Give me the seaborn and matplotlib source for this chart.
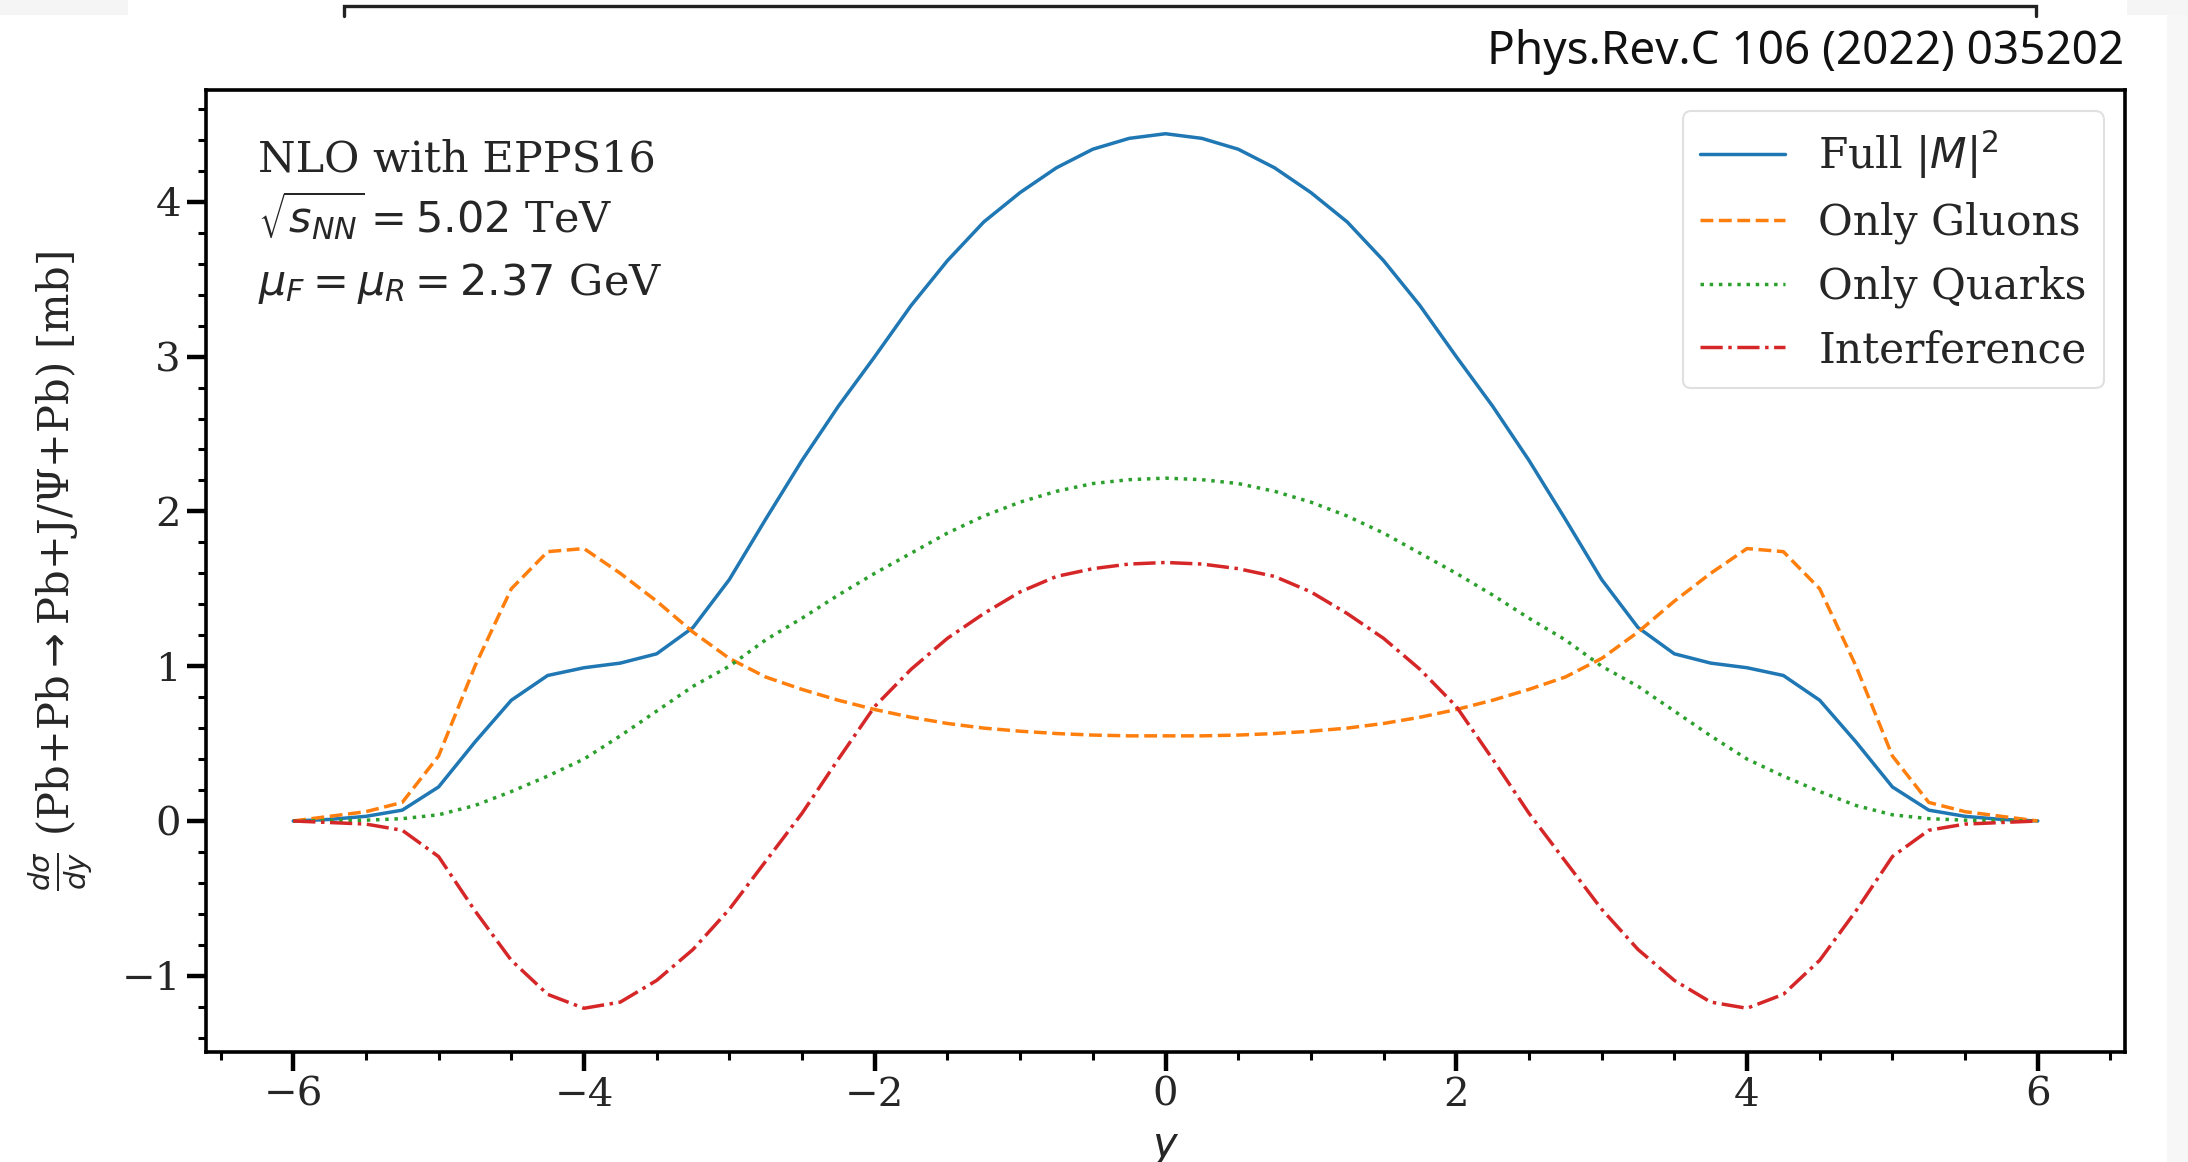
import matplotlib
matplotlib.use("Agg")
import matplotlib.pyplot as plt
from matplotlib.ticker import MultipleLocator
from matplotlib.lines import Line2D
from matplotlib.patches import Rectangle
import pandas as pd
import seaborn as sns

# Rapidity grid and the four contributions to dsigma/dy [mb]
rapidity = [-6.0, -5.75, -5.5, -5.25, -5.0, -4.75, -4.5, -4.25, -4.0, -3.75, -3.5, -3.25,
            -3.0, -2.75, -2.5, -2.25, -2.0, -1.75, -1.5, -1.25, -1.0, -0.75, -0.5, -0.25,
            0.0, 0.25, 0.5, 0.75, 1.0, 1.25, 1.5, 1.75, 2.0, 2.25, 2.5, 2.75,
            3.0, 3.25, 3.5, 3.75, 4.0, 4.25, 4.5, 4.75, 5.0, 5.25, 5.5, 5.75, 6.0]

full_m2 = [0.00, 0.01, 0.03, 0.07, 0.22, 0.51, 0.78, 0.94, 0.99, 1.02, 1.08, 1.25,
           1.56, 1.95, 2.33, 2.68, 3.00, 3.33, 3.62, 3.87, 4.06, 4.22, 4.34, 4.41,
           4.44, 4.41, 4.34, 4.22, 4.06, 3.87, 3.62, 3.33, 3.00, 2.68, 2.33, 1.95,
           1.56, 1.25, 1.08, 1.02, 0.99, 0.94, 0.78, 0.51, 0.22, 0.07, 0.03, 0.01, 0.00]

only_gluons = [0.00, 0.03, 0.06, 0.12, 0.42, 1.00, 1.50, 1.74, 1.76, 1.60, 1.42, 1.22,
               1.05, 0.93, 0.85, 0.78, 0.72, 0.67, 0.63, 0.60, 0.58, 0.565, 0.555, 0.55,
               0.55, 0.55, 0.555, 0.565, 0.58, 0.60, 0.63, 0.67, 0.72, 0.78, 0.85, 0.93,
               1.05, 1.22, 1.42, 1.60, 1.76, 1.74, 1.50, 1.00, 0.42, 0.12, 0.06, 0.03, 0.00]

only_quarks = [0.000, 0.002, 0.005, 0.015, 0.04, 0.10, 0.19, 0.29, 0.40, 0.55, 0.71, 0.87,
               1.00, 1.17, 1.31, 1.46, 1.60, 1.73, 1.86, 1.97, 2.06, 2.13, 2.18, 2.205,
               2.215, 2.205, 2.18, 2.13, 2.06, 1.97, 1.86, 1.73, 1.60, 1.46, 1.31, 1.17,
               1.00, 0.87, 0.71, 0.55, 0.40, 0.29, 0.19, 0.10, 0.04, 0.015, 0.005, 0.002, 0.000]

interference = [0.00, -0.01, -0.02, -0.06, -0.23, -0.58, -0.90, -1.12, -1.21, -1.17, -1.03, -0.83,
                -0.57, -0.26, 0.05, 0.40, 0.74, 0.98, 1.18, 1.34, 1.48, 1.58, 1.63, 1.66,
                1.67, 1.66, 1.63, 1.58, 1.48, 1.34, 1.18, 0.98, 0.74, 0.40, 0.05, -0.26,
                -0.57, -0.83, -1.03, -1.17, -1.21, -1.12, -0.90, -0.58, -0.23, -0.06, -0.02, -0.01, 0.00]

series_labels = [r"Full $|M|^2$", "Only Gluons", "Only Quarks", "Interference"]
series_values = [full_m2, only_gluons, only_quarks, interference]
series_colors = ["#1f77b4", "#ff7f0e", "#2ca02c", "#d62728"]
series_styles = ["-", "--", ":", "-."]

W, H = 2188, 1162
sns.set_style("ticks")
plt.rcParams["font.family"] = ["DejaVu Serif"]
plt.rcParams["mathtext.fontset"] = "dejavusans"

fig = plt.figure(figsize=(W / 100, H / 100), dpi=100)
fig.patch.set_facecolor("white")


def fpos(x, y):
    return x / W, 1 - y / H


# page decorations around the figure
for (x0, y0, x1, y1, c) in [(0, 0, 128, 15, "#f5f5f5"), (2127, 0, 2188, 15, "#f5f5f5"),
                            (2167, 15, 2188, 1162, "#f7f7f7")]:
    fx, fy = fpos(x0, y1)
    fig.add_artist(Rectangle((fx, fy), (x1 - x0) / W, (y1 - y0) / H, transform=fig.transFigure,
                             facecolor=c, edgecolor="none", zorder=0))
bx = [344, 344, 2036, 2036]
by = [16, 6, 6, 16]
fig.add_artist(Line2D([x / W for x in bx], [1 - y / H for y in by], transform=fig.transFigure,
                      color="#222222", lw=2.4, solid_joinstyle="miter"))
tx, ty = fpos(2124, 64)
fig.text(tx, ty, "Phys.Rev.C 106 (2022) 035202", ha="right", va="baseline",
         fontsize=33, family=["Noto Sans", "DejaVu Sans"], color="#111111")

ax = fig.add_axes([206 / W, 1 - 1052 / H, (2125 - 206) / W, (1052 - 90) / H])

df = pd.DataFrame({"y": rapidity})
for lab, vals, col, ls in zip(series_labels, series_values, series_colors, series_styles):
    df[lab] = vals
    sns.lineplot(data=df, x="y", y=lab, ax=ax, color=col, linestyle=ls, lw=2.5, label=lab)

ax.set_xlim(-6.6, 6.6)
ax.set_ylim(-1.4925, 4.7225)
ax.xaxis.set_major_locator(MultipleLocator(2))
ax.xaxis.set_minor_locator(MultipleLocator(0.5))
ax.yaxis.set_major_locator(MultipleLocator(1))
ax.yaxis.set_minor_locator(MultipleLocator(0.2))
ax.tick_params(which="major", direction="out", length=14, width=3.2, labelsize=29, pad=4,
               color="black")
ax.tick_params(which="minor", direction="out", length=6, width=2.2, color="black")
for sp in ax.spines.values():
    sp.set_linewidth(2.6)
    sp.set_color("black")

ax.set_xlabel(r"$y$", fontsize=30)
ax.xaxis.set_label_coords(0.5, -0.077)
ax.set_ylabel(r"$\frac{d\sigma}{dy}$ (Pb+Pb$\rightarrow$Pb+J/Ψ+Pb) [mb]", fontsize=30)
ax.yaxis.set_label_coords(-0.058, 0.5)

x_txt = (258 - 206) / 1919
for text, base in [("NLO with EPPS16", 171.5),
                   (r"$\sqrt{s_{NN}} = 5.02$ TeV", 233),
                   (r"$\mu_F = \mu_R = 2.37$ GeV", 295.5)]:
    ax.text(x_txt, (1052 - base) / 962, text, transform=ax.transAxes, ha="left",
            va="baseline", fontsize=31)

leg = ax.legend(loc="upper right", fontsize=30.5)
leg.get_frame().set_edgecolor("0.85")
leg.get_frame().set_linewidth(1.5)

fig.savefig("out.png", dpi=100)
